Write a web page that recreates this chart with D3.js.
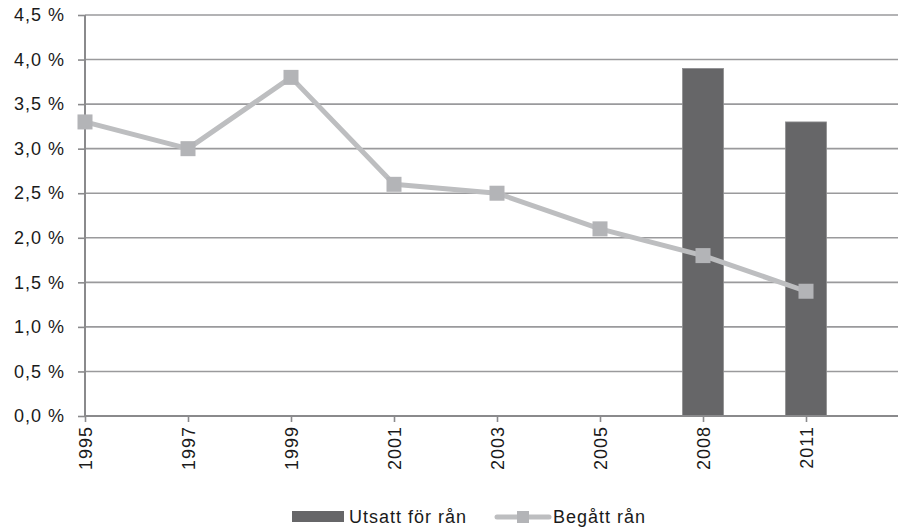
<!DOCTYPE html>
<html>
<head>
<meta charset="utf-8">
<script src="https://cdn.jsdelivr.net/npm/d3@7"></script>
<style>
  body { margin: 0; background: #fff; }
  text { font-family: "Liberation Sans", Arial, sans-serif; fill: #1a1a1a; letter-spacing: 1px; }
</style>
</head>
<body>
<svg></svg>
<script>
const width = 898;
const height = 529;

const years = ['1995', '1997', '1999', '2001', '2003', '2005', '2008', '2011'];
const begattRan = [3.3, 3.0, 3.8, 2.6, 2.5, 2.1, 1.8, 1.4];
const utsattYears = ['2008', '2011'];
const utsattRan = [3.9, 3.3];
const yTicks = [0, 0.5, 1, 1.5, 2, 2.5, 3, 3.5, 4, 4.5];

const renderChart = () => {
    const svg = d3.select('svg')
        .attr('width', width)
        .attr('height', height);

    // category index -> x, one empty slot after the last year
    const x = d3.scaleLinear().domain([0, 8]).range([85, 909]);
    const xOf = yr => x(years.indexOf(yr));
    const y = d3.scaleLinear().domain([0, 4.5]).range([416, 15]);

    // gridlines
    svg.append('g')
        .selectAll('line')
        .data(yTicks.slice(1))
        .enter().append('line')
        .attr('x1', 85).attr('x2', width)
        .attr('y1', d => y(d)).attr('y2', d => y(d))
        .style('stroke', '#9a9a9c')
        .style('stroke-width', 1.6);

    // bars
    const barW = 41;
    svg.append('g')
        .selectAll('rect')
        .data(utsattRan)
        .enter().append('rect')
        .attr('x', (d, i) => xOf(utsattYears[i]) - barW / 2)
        .attr('y', d => y(d))
        .attr('width', barW)
        .attr('height', d => y(0) - y(d))
        .style('fill', '#666668')
        .style('stroke', '#8e8e90')
        .style('stroke-width', 0.8);

    // y axis
    const yAxis = svg.append('g')
        .attr('transform', 'translate(85,0)')
        .call(d3.axisLeft(y).tickValues(yTicks).tickSize(7).tickPadding(13)
            .tickFormat(d => d3.format('.1f')(d).replace('.', ',') + ' %'));
    yAxis.select('.domain').remove();
    yAxis.selectAll('.tick line').style('stroke', '#8a8a8c').style('stroke-width', 1.6);
    yAxis.selectAll('text').style('font-size', '18px').style('fill', '#1a1a1a');
    svg.append('line')
        .attr('x1', 85).attr('x2', 85).attr('y1', 15).attr('y2', 416)
        .style('stroke', '#8a8a8c').style('stroke-width', 2);

    // x axis
    const xAxis = svg.append('g')
        .attr('transform', 'translate(0,416)')
        .call(d3.axisBottom(x).tickValues(d3.range(years.length)).tickSize(6)
            .tickFormat(i => years[i]));
    xAxis.select('.domain').remove();
    xAxis.selectAll('.tick line').style('stroke', '#8a8a8c').style('stroke-width', 1.6);
    xAxis.selectAll('text')
        .style('font-size', '18px')
        .style('fill', '#1a1a1a')
        .attr('transform', 'rotate(-90)')
        .attr('x', -10)
        .attr('y', 0)
        .attr('dy', '0.35em')
        .style('text-anchor', 'end');
    svg.append('line')
        .attr('x1', 85).attr('x2', width).attr('y1', 416).attr('y2', 416)
        .style('stroke', '#8a8a8c').style('stroke-width', 2);

    // line series
    const line = d3.line()
        .x((d, i) => x(i))
        .y(d => y(d));
    svg.append('path')
        .datum(begattRan)
        .attr('d', line)
        .style('fill', 'none')
        .style('stroke', '#bdbec0')
        .style('stroke-width', 5)
        .style('stroke-linejoin', 'round');

    const m = 15;
    svg.append('g')
        .selectAll('rect')
        .data(begattRan)
        .enter().append('rect')
        .attr('x', (d, i) => x(i) - m / 2)
        .attr('y', d => y(d) - m / 2)
        .attr('width', m)
        .attr('height', m)
        .style('fill', '#b3b4b7');

    // legend
    const legend = svg.append('g').attr('transform', 'translate(0,517)');
    legend.append('rect')
        .attr('x', 292).attr('y', -6).attr('width', 52).attr('height', 11)
        .style('fill', '#666668');
    legend.append('text')
        .attr('x', 349).attr('y', 0).attr('dy', '0.35em')
        .style('font-size', '18px')
        .text('Utsatt för rån');
    legend.append('line')
        .attr('x1', 497).attr('x2', 549).attr('y1', 0).attr('y2', 0)
        .style('stroke', '#bdbec0').style('stroke-width', 5)
        .style('stroke-linecap', 'round');
    legend.append('rect')
        .attr('x', 517).attr('y', -6).attr('width', 12).attr('height', 12)
        .style('fill', '#b3b4b7');
    legend.append('text')
        .attr('x', 553).attr('y', 0).attr('dy', '0.35em')
        .style('font-size', '18px')
        .text('Begått rån');
};

document.addEventListener('DOMContentLoaded', () => {
    renderChart();
});
</script>
</body>
</html>
